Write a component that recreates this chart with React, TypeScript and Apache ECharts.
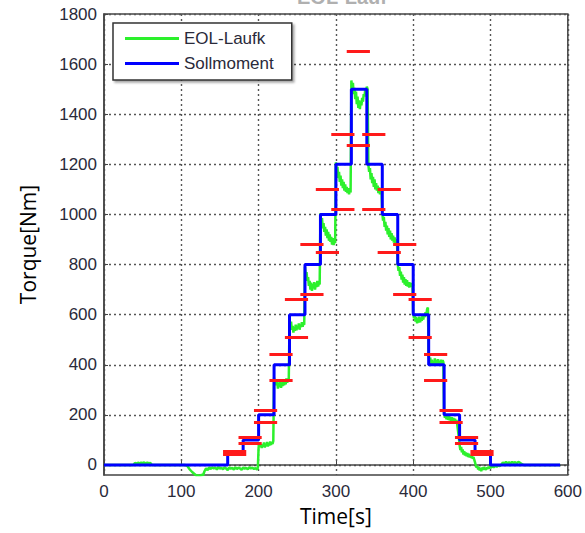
import React, { useEffect, useRef } from "react";
import * as echarts from "echarts";

// Setpoint (Sollmoment) step changes: time [s], torque [Nm]
const sollT = [0, 160, 180, 200, 220, 240, 260, 280, 300, 320, 340, 360, 380, 400, 420, 440, 460, 480, 500, 590];
const sollV = [0, 50, 100, 200, 400, 600, 800, 1000, 1200, 1500, 1200, 1000, 800, 600, 400, 200, 100, 50, 0, 0];

const measured: [number, number][] = [
  [0, 0], [38, 0], [40, 8], [42, 5], [44, 9], [46, 6], [48, 9], [50, 7], [52, 10], [54, 6], [56, 9], [58, 7], [60, 8], [62, 0],
  [105, 0], [108, -5], [111, -18], [114, -28], [117, -36], [120, -44], [122, -40], [124, -49], [126, -38], [128, -42], [130, -25],
  [132, -14], [134, -20], [136, -10], [138, -16], [140, -9], [142, -14], [144, -11], [146, -18], [148, -8], [150, -15], [152, -12],
  [154, -17], [156, -9], [158, -14], [160, -20], [162, -10], [164, -15], [166, -12], [168, -18], [170, -9], [172, -16], [174, -11],
  [176, -14], [178, -19], [180, -10], [182, -15], [184, -12], [186, -17], [188, -9], [190, -14], [192, -11], [194, -16], [196, -13],
  [198, -18], [199, -12],
  [200, 70], [201, 88], [202, 72], [203, 84], [204, 68], [205, 80], [206, 74], [207, 90], [208, 70], [209, 82], [210, 76], [211, 92],
  [212, 74], [213, 86], [214, 78], [215, 94], [216, 80], [217, 90], [218, 84], [219, 96],
  [220, 348], [221, 330], [222, 342], [223, 318], [224, 335], [225, 305], [226, 328], [227, 312], [228, 338], [229, 308], [230, 325],
  [231, 315], [232, 340], [233, 318], [234, 332], [235, 322], [236, 345], [237, 328], [238, 340], [239, 335],
  [240, 578], [241, 560], [242, 572], [243, 540], [244, 555], [245, 528], [246, 550], [247, 535], [248, 560], [249, 538], [250, 555],
  [251, 545], [252, 565], [253, 540], [254, 560], [255, 550], [256, 570], [257, 552], [258, 566], [259, 560],
  [260, 790], [261, 760], [262, 770], [263, 735], [264, 750], [265, 715], [266, 735], [267, 700], [268, 728], [269, 695], [270, 722],
  [271, 705], [272, 730], [273, 700], [274, 725], [275, 710], [276, 735], [277, 712], [278, 728], [279, 720],
  [280, 1005], [281, 970], [282, 985], [283, 945], [284, 965], [285, 930], [286, 950], [287, 915], [288, 940], [289, 905], [290, 930],
  [291, 895], [292, 920], [293, 890], [294, 910], [295, 880], [296, 905], [297, 878], [298, 895], [299, 885],
  [300, 1208], [301, 1175], [302, 1190], [303, 1145], [304, 1170], [305, 1130], [306, 1155], [307, 1115], [308, 1140], [309, 1105],
  [310, 1130], [311, 1095], [312, 1120], [313, 1090], [314, 1110], [315, 1085], [316, 1105], [317, 1080], [318, 1098], [319, 1088],
  [320, 1535], [321, 1505], [322, 1525], [323, 1480], [324, 1505], [325, 1460], [326, 1490], [327, 1440], [328, 1470], [329, 1425],
  [330, 1455], [331, 1420], [332, 1450], [333, 1435], [334, 1465], [335, 1450], [336, 1480], [337, 1470], [338, 1500], [339, 1490],
  [340, 1510], [341, 1500],
  [342, 1198], [343, 1170], [344, 1185], [345, 1140], [346, 1165], [347, 1125], [348, 1150], [349, 1110], [350, 1140], [351, 1100],
  [352, 1125], [353, 1095], [354, 1115], [355, 1085], [356, 1108], [357, 1080], [358, 1100], [359, 1090],
  [360, 1005], [361, 975], [362, 990], [363, 950], [364, 970], [365, 935], [366, 955], [367, 920], [368, 945], [369, 910], [370, 935],
  [371, 900], [372, 925], [373, 895], [374, 915], [375, 888], [376, 908], [377, 882], [378, 900], [379, 890],
  [380, 800], [381, 775], [382, 790], [383, 755], [384, 772], [385, 740], [386, 760], [387, 728], [388, 750], [389, 720], [390, 742],
  [391, 715], [392, 738], [393, 712], [394, 730], [395, 708], [396, 728], [397, 712], [398, 725], [399, 715],
  [400, 605], [401, 585], [402, 598], [403, 572], [404, 590], [405, 565], [406, 585], [407, 568], [408, 592], [409, 570], [410, 588],
  [411, 575], [412, 595], [413, 580], [414, 600], [415, 590], [416, 610], [417, 600], [418, 622], [419, 628],
  [420, 438], [421, 412], [422, 428], [423, 400], [424, 420], [425, 398], [426, 415], [427, 402], [428, 425], [429, 400], [430, 418],
  [431, 405], [432, 422], [433, 398], [434, 415], [435, 402], [436, 420], [437, 405], [438, 418], [439, 410],
  [440, 205], [441, 188], [442, 200], [443, 182], [444, 198], [445, 180], [446, 195], [447, 178], [448, 192], [449, 176], [450, 190],
  [451, 175], [452, 188], [453, 172], [454, 185], [455, 170], [456, 180], [457, 160], [458, 135],
  [459, 110], [460, 80], [461, 60], [462, 72], [463, 50], [464, 62], [465, 42], [466, 55], [467, 38], [468, 50], [469, 35], [470, 48],
  [471, 32], [472, 45], [473, 30], [474, 40], [475, 28], [476, 38], [477, 25], [478, 32], [479, 20], [480, 10], [481, -2], [482, -10],
  [483, -4], [484, -18], [485, -8], [486, -22], [487, -12], [488, -25], [489, -10], [490, -20], [491, -8], [492, -18], [493, -12],
  [494, -20], [495, -10], [496, -16], [497, -8], [498, -14], [499, -6], [500, -12], [502, -4], [504, -9], [506, -3], [508, -7],
  [510, -2], [512, -5], [514, 2], [516, 10], [518, 6], [520, 12], [522, 7], [524, 11], [526, 6], [528, 12], [530, 8], [532, 11],
  [534, 7], [536, 12], [538, 9], [540, 5], [542, 1], [543, 0], [590, 0],
];

// Tolerance markers (red): start/end time, upper and lower limits
const redStart = [154, 174, 194, 214, 234, 254, 274, 294, 314, 334, 354, 374, 394, 414, 434, 454, 474];
const redEnd = [184, 204, 224, 244, 264, 284, 304, 324, 344, 364, 384, 404, 424, 444, 464, 484, 504];
const redUpper = [55, 110, 220, 440, 660, 880, 1100, 1320, 1650, 1320, 1100, 880, 660, 440, 220, 110, 55];
const redLower = [42.5, 85, 170, 340, 510, 680, 850, 1020, 1275, 1020, 850, 680, 510, 340, 170, 85, 42.5];

const yTicks = [0, 200, 400, 600, 800, 1000, 1200, 1400, 1600, 1800];

const tickFont = "'Liberation Sans', Arial, sans-serif";
const gridDot = { color: "#555", width: 1.4, type: [2, 3] as number[] };

export default function App() {
  const ref = useRef<HTMLDivElement>(null);
  useEffect(() => {
    if (!ref.current) return;
    const chart = echarts.init(ref.current, null, { renderer: "svg" });
    const blue = sollT.map((t, i) => [t, sollV[i]]);
    const redSegs: any[] = [];
    redStart.forEach((s, i) => {
      redSegs.push({ coords: [[s, redUpper[i]], [redEnd[i], redUpper[i]]] });
      redSegs.push({ coords: [[s, redLower[i]], [redEnd[i], redLower[i]]] });
    });
    chart.setOption({
      animation: false,
      backgroundColor: "#fff",
      title: {
        text: "EOL-Lauf",
        left: 337,
        textAlign: "center",
        top: -18,
        textStyle: { color: "#b0b0b0", fontSize: 20, fontWeight: "bold", fontFamily: tickFont },
      },
      grid: {
        left: 104,
        right: 15,
        top: 14,
        bottom: 58,
        show: true,
        borderColor: "#444",
        borderWidth: 1.5,
        backgroundColor: "#fff",
      },
      legend: {
        data: ["EOL-Laufk", "Sollmoment"],
        orient: "vertical",
        left: 113,
        top: 23,
        icon: "rect",
        itemWidth: 54,
        itemHeight: 3,
        itemGap: 8,
        padding: [7, 18, 8, 12],
        selectedMode: false,
        backgroundColor: "#fff",
        borderColor: "#333",
        borderWidth: 1.5,
        shadowColor: "rgba(0,0,0,0.35)",
        shadowOffsetX: 2,
        shadowOffsetY: 2,
        shadowBlur: 2,
        textStyle: { fontSize: 17, color: "#2a2a3a", fontFamily: tickFont },
      },
      xAxis: {
        type: "value",
        min: 0,
        max: 600,
        interval: 100,
        name: "Time[s]",
        nameLocation: "middle",
        nameGap: 30,
        nameTextStyle: { fontSize: 21, color: "#000", fontFamily: "'Open Sans', sans-serif" },
        axisLine: { show: true, lineStyle: { color: "#444", width: 1.5 } },
        axisTick: { show: true, inside: true, length: 4, lineStyle: { color: "#444" } },
        axisLabel: { margin: 8, fontSize: 17, color: "#2a2a3a", fontFamily: tickFont, formatter: (v: number) => String(v) },
        splitLine: { show: true, lineStyle: gridDot },
      },
      yAxis: {
        type: "value",
        min: -40,
        max: 1800,
        name: "Torque[Nm]",
        nameLocation: "middle",
        nameGap: 66,
        nameTextStyle: { fontSize: 21, color: "#000", fontFamily: "'Open Sans', sans-serif" },
        axisLine: { show: true, lineStyle: { color: "#444", width: 1.5 } },
        axisTick: { show: true, inside: true, length: 4, lineStyle: { color: "#444" }, customValues: yTicks },
        axisLabel: {
          margin: 7,
          fontSize: 17,
          color: "#2a2a3a",
          fontFamily: tickFont,
          customValues: yTicks,
          formatter: (v: number) => String(v),
        },
        splitLine: { show: true, lineStyle: gridDot },
      },
      series: [
        {
          name: "EOL-Laufk",
          type: "line",
          data: measured,
          showSymbol: false,
          color: "#2cf02c",
          lineStyle: { color: "#2cf02c", width: 2.5 },
          z: 2,
        },
        {
          name: "Sollmoment",
          type: "line",
          step: "end",
          data: blue,
          showSymbol: false,
          color: "#0000ff",
          lineStyle: { color: "#0000ff", width: 3 },
          z: 3,
        },
        {
          name: "Toleranz",
          type: "lines",
          coordinateSystem: "cartesian2d",
          data: redSegs,
          lineStyle: { color: "#ff1a1a", width: 3, opacity: 1 },
          z: 4,
        },
      ],
    });
    return () => chart.dispose();
  }, []);
  return <div ref={ref} style={{ position: "absolute", left: 0, top: 0, width: 585, height: 533 }} />;
}
